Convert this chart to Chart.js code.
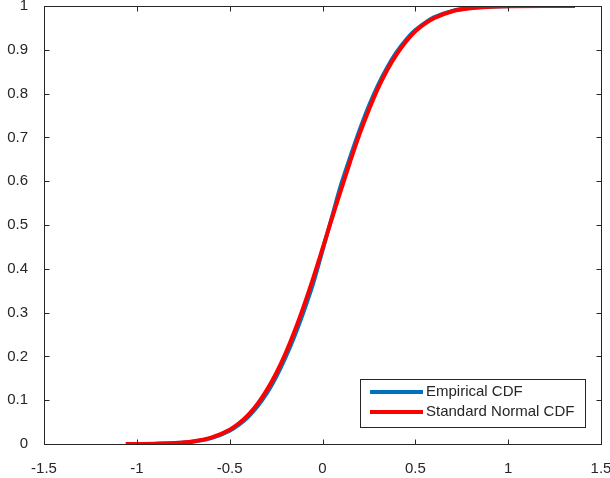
<!DOCTYPE html>
<html>
<head>
<meta charset="utf-8">
<script src="https://cdn.jsdelivr.net/npm/chart.js@4/dist/chart.umd.min.js"></script>
<style>
  body { margin: 0; background: #fff; }
  #wrap { width: 610px; height: 478px; }
</style>
</head>
<body>
<div id="wrap"><canvas id="plot-cdf" width="610" height="478"></canvas></div>
<script>
// values
let normalX = [-1.06, -0.9, -0.8, -0.7, -0.6, -0.5, -0.45, -0.4, -0.35, -0.3, -0.25, -0.2, -0.15, -0.1, -0.05,
  0, 0.05, 0.1, 0.15, 0.2, 0.25, 0.3, 0.35, 0.4, 0.45, 0.5, 0.55, 0.6, 0.7, 0.8, 0.9, 1.0, 1.2, 1.36];
let normalY = [0.0001, 0.0007, 0.0021, 0.0058, 0.0145, 0.0327, 0.0473, 0.0666, 0.0916, 0.123, 0.161, 0.206, 0.258, 0.316, 0.379,
  0.446, 0.514, 0.581, 0.646, 0.708, 0.763, 0.813, 0.855, 0.89, 0.919, 0.942, 0.959, 0.972, 0.988, 0.995, 0.998, 0.9995, 1, 1];

let empiricalX = [-0.9, -0.8, -0.7, -0.6, -0.5, -0.45, -0.4, -0.35, -0.3, -0.25, -0.2, -0.15, -0.1, -0.05,
  0, 0.05, 0.1, 0.15, 0.2, 0.25, 0.3, 0.35, 0.4, 0.45, 0.5, 0.55, 0.6, 0.7, 0.8, 0.9, 1.0];
let empiricalY = [0.0006, 0.0019, 0.0052, 0.0133, 0.0303, 0.044, 0.0623, 0.0861, 0.116, 0.153, 0.197, 0.247, 0.304, 0.367,
  0.442, 0.517, 0.592, 0.656, 0.717, 0.772, 0.82, 0.861, 0.895, 0.923, 0.945, 0.961, 0.974, 0.989, 0.9956, 0.9985, 0.9996];

let legendLabels = ["Empirical CDF", "Standard Normal CDF"];

const textColor = "#262626";
const fontFamily = "'Liberation Sans', Arial, sans-serif";

function toPoints(xs, ys) {
  return xs.map((x, i) => ({ x: x, y: ys[i] }));
}

function tickLabel(value) {
  return String(+value.toFixed(2));
}

// MATLAB-like box with inward ticks and a legend inside the axes
const matlabBox = {
  id: "matlabBox",
  afterDatasetsDraw(chart) {
    const ctx = chart.ctx;
    const a = chart.chartArea;
    const l = Math.round(a.left) + 0.5, r = Math.round(a.right) + 0.5;
    const t = Math.round(a.top) + 0.5, b = Math.round(a.bottom) + 0.5;
    const len = 5;
    ctx.save();
    ctx.strokeStyle = textColor;
    ctx.lineWidth = 1;
    ctx.beginPath();
    chart.scales.x.ticks.forEach((tk) => {
      let px = Math.round(chart.scales.x.getPixelForValue(tk.value)) + 0.5;
      ctx.moveTo(px, b); ctx.lineTo(px, b - len);
      ctx.moveTo(px, t); ctx.lineTo(px, t + len);
    });
    chart.scales.y.ticks.forEach((tk) => {
      let py = Math.round(chart.scales.y.getPixelForValue(tk.value)) + 0.5;
      ctx.moveTo(l, py); ctx.lineTo(l + len, py);
      ctx.moveTo(r, py); ctx.lineTo(r - len, py);
    });
    ctx.stroke();
    ctx.strokeRect(l, t, r - l, b - t);

    // legend
    const bx = 360.5, by = 379.5, bw = 225, bh = 48;
    ctx.fillStyle = "#fff";
    ctx.fillRect(bx, by, bw, bh);
    ctx.strokeRect(bx, by, bw, bh);
    ctx.font = "15px " + fontFamily;
    ctx.textBaseline = "middle";
    ctx.textAlign = "left";
    chart.data.datasets.forEach((ds, i) => {
      let rowY = 392 + i * 20;
      ctx.strokeStyle = ds.borderColor;
      ctx.lineWidth = 4;
      ctx.beginPath();
      ctx.moveTo(370, rowY);
      ctx.lineTo(423, rowY);
      ctx.stroke();
      ctx.fillStyle = textColor;
      ctx.fillText(legendLabels[i], 426, rowY);
    });
    ctx.restore();
  },
};

function makeChart() {
  let canvas = document.getElementById("plot-cdf");
  const myChart = new Chart(canvas, {
    type: "line",
    data: {
      datasets: [
        {
          label: legendLabels[0],
          data: toPoints(empiricalX, empiricalY),
          borderColor: "#0072BD",
          backgroundColor: "#0072BD",
          borderWidth: 4,
          pointRadius: 0,
          cubicInterpolationMode: "monotone",
          order: 2,
        },
        {
          label: legendLabels[1],
          data: toPoints(normalX, normalY),
          borderColor: "#FF0000",
          backgroundColor: "#FF0000",
          borderWidth: 4,
          pointRadius: 0,
          cubicInterpolationMode: "monotone",
          order: 1,
        },
      ],
    },
    options: {
      responsive: false,
      animation: false,
      layout: { padding: { top: 6, right: 9, left: 0, bottom: 0 } },
      plugins: { legend: { display: false }, tooltip: { enabled: false } },
      scales: {
        x: {
          type: "linear",
          min: -1.5,
          max: 1.5,
          grid: { display: false },
          border: { display: false },
          ticks: {
            stepSize: 0.5,
            padding: 8,
            color: textColor,
            font: { family: fontFamily, size: 15 },
            maxRotation: 0,
            callback: tickLabel,
          },
          afterFit: (s) => { s.height = 34; s.paddingLeft = 0; s.paddingRight = 0; },
        },
        y: {
          min: 0,
          max: 1,
          grid: { display: false },
          border: { display: false },
          ticks: {
            stepSize: 0.1,
            padding: 8,
            color: textColor,
            font: { family: fontFamily, size: 15 },
            callback: tickLabel,
          },
          afterFit: (s) => { s.width = 44; s.paddingTop = 0; s.paddingBottom = 0; },
        },
      },
    },
    plugins: [matlabBox],
  });
}

makeChart();
</script>
</body>
</html>
